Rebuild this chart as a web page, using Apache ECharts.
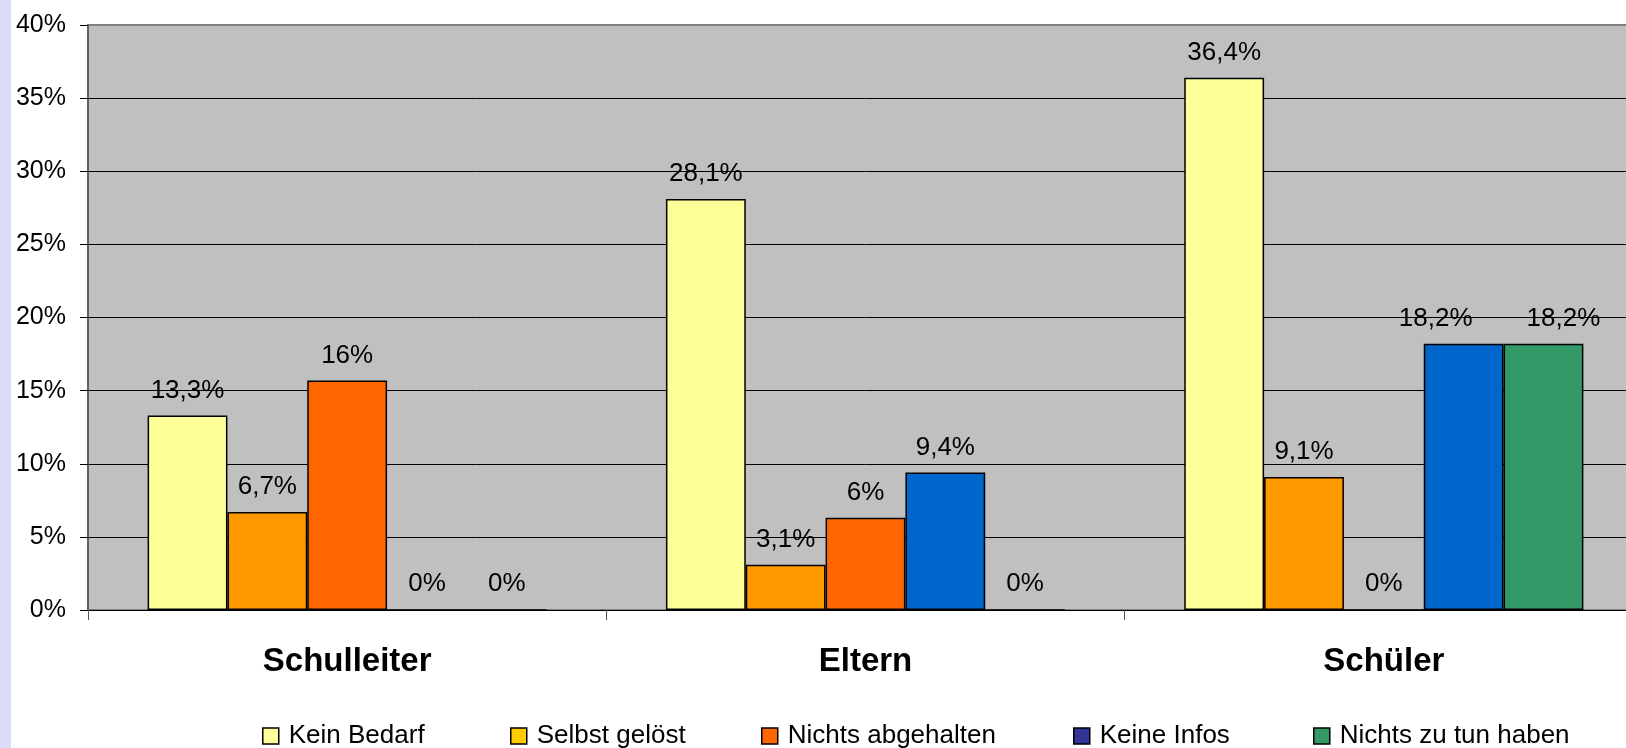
<!DOCTYPE html>
<html>
<head>
<meta charset="utf-8">
<script src="https://cdn.jsdelivr.net/npm/echarts@6/dist/echarts.min.js"></script>
<style>
html,body{margin:0;padding:0;background:#fff;overflow:hidden;width:1626px;height:748px;}
#chart{width:1643px;height:748px;}
</style>
</head>
<body>
<div id="chart"></div>
<script>
// ---- data ----
const categories = ['Schulleiter', 'Eltern', 'Schüler'];
const seriesNames = ['Kein Bedarf', 'Selbst gelöst', 'Nichts abgehalten', 'Keine Infos', 'Nichts zu tun haben'];
const keinBedarf = [13.3, 28.1, 36.4];
const selbstGeloest = [6.7, 3.1, 9.1];
const nichtsAbgehalten = [15.7, 6.3, 0];
const keineInfos = [0, 9.4, 18.2];
const nichtsZuTun = [0, 0, 18.2];
const labelsKeinBedarf = ['13,3%', '28,1%', '36,4%'];
const labelsSelbstGeloest = ['6,7%', '3,1%', '9,1%'];
const labelsNichtsAbgehalten = ['16%', '6%', '0%'];
const labelsKeineInfos = ['0%', '9,4%', '18,2%'];
const labelsNichtsZuTun = ['0%', '0%', '18,2%'];
const yTicks = [0, 5, 10, 15, 20, 25, 30, 35, 40];

const FONT = '"Liberation Sans", Arial, sans-serif';

const barColors = ['#FFFF99', '#FF9900', '#FF6600', '#0066CC', '#339966'];
const legendColors = ['#FFFF99', '#FFCC00', '#FF6600', '#333399', '#339966'];
const legendLeft = [262, 510, 761, 1073, 1313];
// horizontal nudges of overlapping value labels (series index -> category index -> px)
const labelNudge = {3: {2: -28}, 4: {2: 20}};

const allValues = [keinBedarf, selbstGeloest, nichtsAbgehalten, keineInfos, nichtsZuTun];
const allLabels = [labelsKeinBedarf, labelsSelbstGeloest, labelsNichtsAbgehalten, labelsKeineInfos, labelsNichtsZuTun];

const chart = echarts.init(document.getElementById('chart'), null, {renderer: 'canvas'});

const series = seriesNames.map((name, i) => ({
  name: name,
  type: 'bar',
  data: allValues[i].map((v, j) => {
    const dx = labelNudge[i] && labelNudge[i][j];
    return dx ? {value: v, label: {offset: [dx, 0]}} : v;
  }),
  barGap: 0,
  barCategoryGap: '23%',
  itemStyle: {color: barColors[i], borderColor: '#000', borderWidth: 1.5},
  label: {
    show: true,
    position: 'top',
    distance: 12,
    color: '#000',
    fontFamily: FONT,
    fontSize: 26,
    formatter: p => allLabels[i][p.dataIndex]
  }
}));

const splitColors = yTicks.map((t, idx) => idx === yTicks.length - 1 ? '#808080' : '#000');

const legends = seriesNames.map((n, i) => ({
  left: legendLeft[i], top: 723, padding: 0,
  itemWidth: 16, itemHeight: 16,
  icon: 'rect',
  selectedMode: false,
  textStyle: {fontFamily: FONT, fontSize: 26, color: '#000', padding: [0, 0, 0, 5]},
  data: [{
    name: n,
    itemStyle: {color: legendColors[i], borderColor: '#000', borderWidth: 1.5}
  }]
}));

chart.setOption({
  animation: false,
  backgroundColor: '#fff',
  graphic: [{
    type: 'rect', left: 0, top: 0, shape: {width: 11, height: 748},
    style: {fill: '#DCDCFA'}, silent: true
  }],
  grid: {
    left: 88, top: 25, right: 0, height: 585,
    show: true, backgroundColor: '#C0C0C0', borderColor: '#808080', borderWidth: 2
  },
  legend: legends,
  xAxis: {
    type: 'category',
    data: categories,
    axisLine: {show: true, lineStyle: {color: '#000', width: 1}},
    axisTick: {show: true, length: 10, lineStyle: {color: '#555'}},
    axisLabel: {margin: 35, color: '#000', fontFamily: FONT, fontSize: 33, fontWeight: 'bold'}
  },
  yAxis: {
    type: 'value',
    min: 0, max: 40, interval: 5,
    axisLine: {show: true, lineStyle: {color: '#555', width: 1.5}},
    axisTick: {show: true, length: 8, lineStyle: {color: '#000'}},
    axisLabel: {margin: 22, color: '#000', fontFamily: FONT, fontSize: 25, formatter: '{value}%'},
    splitLine: {show: true, lineStyle: {color: splitColors, width: 1}}
  },
  series: series
});
</script>
</body>
</html>
